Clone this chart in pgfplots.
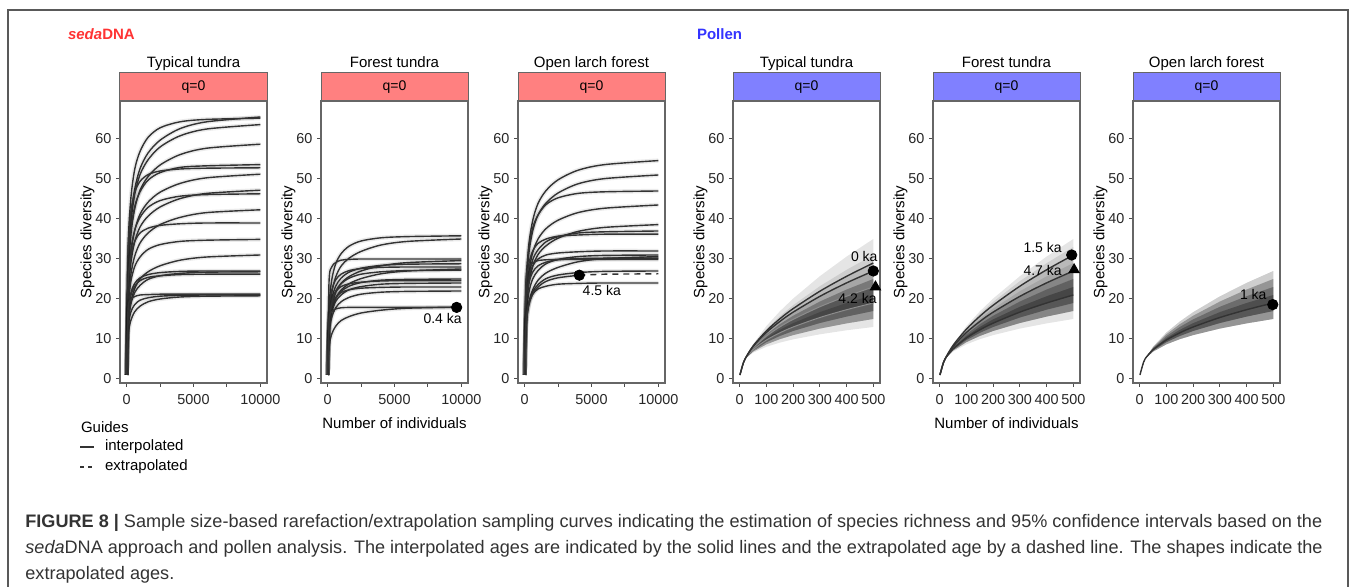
\documentclass[border=0pt]{standalone}
\usepackage{pgfplots}
\pgfplotsset{compat=1.18}
\usepackage{pgfplotstable}
\usepackage{fontspec}
\setmainfont{Liberation Sans}

\definecolor{redstrip}{RGB}{255,128,128}
\definecolor{bluestrip}{RGB}{128,128,255}
\definecolor{sedred}{RGB}{255,51,51}
\definecolor{polblue}{RGB}{51,51,255}
\definecolor{ink}{RGB}{51,51,51}

% sedaDNA rarefaction curves, typical tundra
\pgfplotstableread{
n c1 c2 c3 c4 c5 c6 c7 c8 c9 c10 c11 c12 c13 c14 c15 c16 c17 c18 c19
1 1 1 1 1 1 1 1 1 1 1 1 1 1 1 1 1 1 1 1
100 26.8 31.8 26.0 24.1 26.2 31.0 21.1 19.5 22.7 17.5 23.0 17.3 13.0 16.1 15.6 12.6 10.5 13.4 17.2
300 39.7 44.7 38.6 35.6 36.8 41.4 31.1 28.7 31.8 25.8 30.6 24.1 19.0 21.3 20.7 16.6 14.5 18.5 19.8
600 47.4 52.4 46.1 42.5 43.1 46.6 37.1 34.3 37.2 30.7 34.4 28.1 22.6 23.9 23.2 18.6 16.8 21.6 20.6
1000 52.6 56.9 51.1 47.2 46.8 49.4 41.2 38.0 40.4 34.0 36.5 30.5 25.0 25.3 24.6 19.7 18.2 23.4 21.0
1600 56.5 60.4 54.8 50.6 49.7 51.1 44.2 40.7 42.9 36.5 37.7 32.4 26.8 26.1 25.4 20.3 19.3 24.9 21.1
2500 59.7 62.8 58.0 53.5 51.6 52.0 46.7 43.0 44.6 38.6 38.4 33.6 28.3 26.6 25.8 20.7 20.0 25.8 21.2
4000 62.6 64.3 60.8 56.1 52.9 52.5 48.9 45.1 45.7 40.4 38.8 34.4 29.7 26.9 26.1 20.9 20.5 26.4 21.2
6000 64.3 64.9 62.5 57.7 53.3 52.7 50.3 46.4 46.1 41.6 39.0 34.7 30.5 27.0 26.2 21.0 20.7 26.7 21.2
10000 65.5 65.2 63.6 58.7 53.6 52.8 51.2 47.2 46.3 42.3 39.0 34.9 31.0 27.0 26.2 21.0 20.8 26.8 21.2
}\sedA

% sedaDNA, forest tundra
\pgfplotstableread{
n c1 c2 c3 c4 c5 c6 c7 c8 c9 c10 c11 c12 c13 c14
1 1 1 1 1 1 1 1 1 1 1 1 1 1 1
100 17.7 14.6 24.2 12.4 14.3 16.7 11.6 12.5 14.7 12.0 13.8 11.1 13.6 7.8
300 24.7 21.4 28.0 18.2 19.9 22.1 16.9 17.3 19.4 16.6 18.2 15.3 18.8 11.2
600 28.8 25.5 29.1 21.6 23.2 24.8 20.1 20.2 21.8 19.4 20.4 17.8 22.0 13.2
1000 31.3 28.2 29.7 23.9 25.2 26.2 22.2 21.9 23.1 21.0 21.6 19.3 23.8 14.6
1600 33.2 30.2 29.9 25.6 26.7 27.1 23.8 23.2 23.8 22.3 22.3 20.4 25.2 15.6
2500 34.5 31.9 30.0 27.0 27.7 27.6 25.1 24.1 24.2 23.1 22.7 21.2 26.2 16.5
4000 35.3 33.5 30.0 28.3 28.4 27.9 26.3 24.7 24.5 23.7 22.9 21.7 26.8 17.2
6000 35.6 34.4 30.0 29.1 28.7 28.0 27.0 24.9 24.6 23.9 23.0 21.9 27.1 17.7
10000 35.8 35.0 30.0 29.6 28.8 28.0 27.5 25.0 24.6 24.0 23.0 22.0 27.2 18.0
}\sedB

% sedaDNA, open larch forest
\pgfplotstableread{
n c1 c2 c3 c4 c5 c6 c7 c8 c9 c10 c11 c12 c13 c14
1 1 1 1 1 1 1 1 1 1 1 1 1 1 1
100 22.4 21.0 23.1 18.0 16.0 18.3 21.4 19.0 15.4 12.8 17.9 24.1 13.5 14.3
300 33.2 31.0 32.3 26.5 23.6 25.5 28.5 25.2 21.4 18.8 23.8 27.9 18.7 18.9
600 39.6 37.0 37.8 31.6 28.1 29.8 32.0 28.3 25.0 22.3 26.7 29.0 21.8 21.2
1000 43.9 41.0 41.0 35.0 31.1 32.3 33.9 30.0 27.1 24.7 28.3 29.6 23.6 22.5
1600 47.1 44.0 43.6 37.6 33.3 34.3 35.0 31.0 28.8 26.5 29.2 29.8 25.1 23.2
2500 49.8 46.5 45.3 39.7 35.2 35.6 35.7 31.5 29.9 27.9 29.8 29.9 26.0 23.7
4000 52.2 48.8 46.4 41.6 36.9 36.5 36.0 31.8 30.6 29.3 30.1 29.9 26.6 23.9
6000 53.6 50.1 46.8 42.7 37.9 36.8 36.2 32.0 30.9 30.1 30.2 29.9 26.9 24.0
10000 54.6 51.0 47.0 43.5 38.6 37.0 36.2 32.0 31.0 30.6 30.2 29.9 27.0 24.0
}\sedC

% pollen rarefaction curves (estimate at 500 individuals in the column name)
\pgfplotstableread{
n P13 P15 P17 P19 P21 P23 P25 P27 P29 P31 P33 P35
1 1 1 1 1 1 1 1 1 1 1 1 1
10 3.2 3.2 3.2 3.2 3.2 3.2 3.2 3.2 3.2 3.2 3.2 3.2
20 5 5 5 5 5 5 5 5 5 5 5 5
50 6.56 6.83 7.08 7.31 7.52 7.72 7.91 8.08 8.24 8.40 8.55 8.70
100 8.06 8.66 9.21 9.74 10.25 10.72 11.18 11.62 12.04 12.45 12.84 13.23
150 9.09 9.95 10.75 11.53 12.28 13.00 13.69 14.37 15.03 15.67 16.29 16.90
200 9.91 10.97 12.00 13.00 13.96 14.90 15.81 16.71 17.59 18.44 19.29 20.10
300 11.17 12.60 13.99 15.37 16.72 18.05 19.36 20.66 21.94 23.20 24.46 25.70
400 12.18 13.90 15.60 17.32 19.00 20.69 22.36 24.03 25.67 27.30 28.95 30.60
500 13 15 17 19 21 23 25 27 29 31 33 35
}\pol

% the same curves as coordinate runs, forwards and backwards, for the confidence bands
\newcommand\defcurve[3]{\expandafter\def\csname F#1\endcsname{#2}\expandafter\def\csname R#1\endcsname{#3}}
\defcurve{13}{(50,6.56)(100,8.06)(150,9.09)(200,9.91)(300,11.17)(400,12.18)(500,13)}{(500,13)(400,12.18)(300,11.17)(200,9.91)(150,9.09)(100,8.06)(50,6.56)}
\defcurve{15}{(50,6.83)(100,8.66)(150,9.95)(200,10.97)(300,12.60)(400,13.90)(500,15)}{(500,15)(400,13.90)(300,12.60)(200,10.97)(150,9.95)(100,8.66)(50,6.83)}
\defcurve{17}{(50,7.08)(100,9.21)(150,10.75)(200,12.00)(300,13.99)(400,15.60)(500,17)}{(500,17)(400,15.60)(300,13.99)(200,12.00)(150,10.75)(100,9.21)(50,7.08)}
\defcurve{19}{(50,7.31)(100,9.74)(150,11.53)(200,13.00)(300,15.37)(400,17.32)(500,19)}{(500,19)(400,17.32)(300,15.37)(200,13.00)(150,11.53)(100,9.74)(50,7.31)}
\defcurve{21}{(50,7.52)(100,10.25)(150,12.28)(200,13.96)(300,16.72)(400,19.00)(500,21)}{(500,21)(400,19.00)(300,16.72)(200,13.96)(150,12.28)(100,10.25)(50,7.52)}
\defcurve{23}{(50,7.72)(100,10.72)(150,13.00)(200,14.90)(300,18.05)(400,20.69)(500,23)}{(500,23)(400,20.69)(300,18.05)(200,14.90)(150,13.00)(100,10.72)(50,7.72)}
\defcurve{25}{(50,7.91)(100,11.18)(150,13.69)(200,15.81)(300,19.36)(400,22.36)(500,25)}{(500,25)(400,22.36)(300,19.36)(200,15.81)(150,13.69)(100,11.18)(50,7.91)}
\defcurve{27}{(50,8.08)(100,11.62)(150,14.37)(200,16.71)(300,20.66)(400,24.03)(500,27)}{(500,27)(400,24.03)(300,20.66)(200,16.71)(150,14.37)(100,11.62)(50,8.08)}
\defcurve{29}{(50,8.24)(100,12.04)(150,15.03)(200,17.59)(300,21.94)(400,25.67)(500,29)}{(500,29)(400,25.67)(300,21.94)(200,17.59)(150,15.03)(100,12.04)(50,8.24)}
\defcurve{31}{(50,8.40)(100,12.45)(150,15.67)(200,18.44)(300,23.20)(400,27.30)(500,31)}{(500,31)(400,27.30)(300,23.20)(200,18.44)(150,15.67)(100,12.45)(50,8.40)}
\defcurve{33}{(50,8.55)(100,12.84)(150,16.29)(200,19.29)(300,24.46)(400,28.95)(500,33)}{(500,33)(400,28.95)(300,24.46)(200,19.29)(150,16.29)(100,12.84)(50,8.55)}
\defcurve{35}{(50,8.70)(100,13.23)(150,16.90)(200,20.10)(300,25.70)(400,30.60)(500,35)}{(500,35)(400,30.60)(300,25.70)(200,20.10)(150,16.90)(100,13.23)(50,8.70)}

% band between lower curve #1 and upper curve #2
\newcommand\band[2]{\edef\tmp{\noexpand\addplot[rib] coordinates {(1,1)(10,3.2)(20,5)\csname F#2\endcsname\csname R#1\endcsname(20,5)};}\tmp}

\newcommand\fs[1]{\fontsize{#1}{#1}\selectfont}
\tikzset{lab/.style={font=\fs{7}}}

\pgfplotsset{
  panel/.style={width=73.5pt, height=141pt, scale only axis, anchor=south west,
    ymin=-1, ymax=69.5, ytick={0,10,...,60},
    tick align=outside, tick pos=left,
    major tick length=2pt, minor tick length=2pt,
    tick style={black!70, line width=0.5pt},
    axis line style={black!60, line width=0.6pt},
    ticklabel style={font=\fs{7.2}, text=black!85},
    yticklabel style={xshift=1.2pt},
    /pgf/number format/assume math mode=true,
    /pgf/number format/set thousands separator={},
    scaled x ticks=false,
    ylabel={Species diversity},
    ylabel shift=-6.5pt,
    ylabel style={font=\fs{7.5}, text=black},
    xlabel style={font=\fs{7.5}, text=black},
  },
  sed/.style={panel, xmin=-500, xmax=10500, xtick={0,5000,10000}, minor xtick={2500,7500}},
  pol/.style={panel, xmin=-25, xmax=525, xtick={0,100,...,500}},
  strip/.style 2 args={extra description/.append code={
    \draw[fill=#1, draw=black!60, line width=0.5pt] (0,1) rectangle ([yshift=14pt]1,1);
    \node[font=\fs{7}] at ([yshift=7pt]0.5,1) {q=0};
    \node[font=\fs{7.5}, anchor=base] at ([yshift=16.8pt]0.5,1) {#2};
  }},
  cur/.style={ink, line width=0.7pt, smooth, tension=0.5,
    preaction={draw=black, draw opacity=0.08, line width=2.2pt}},
  rib/.style={fill=black, fill opacity=0.1, draw=none},
  pline/.style={ink, line width=0.7pt, smooth},
  gline/.style={black!45, line width=0.5pt, smooth},
}

\begin{document}
\begin{tikzpicture}
\path[use as bounding box] (0,0) rectangle (678.5pt,293.5pt);
\draw[black!65, line width=0.7pt] (4pt,0) -- (4pt,288.5pt) -- (674pt,288.5pt) -- (674pt,0);

\node[anchor=west, font=\fs{7.5}\bfseries, text=sedred] at (30.5pt,276.5pt) {\textit{seda}DNA};
\node[anchor=west, font=\fs{7.5}\bfseries, text=polblue] at (345pt,276.5pt) {Pollen};

% ---- sedaDNA ----
\begin{axis}[sed, at={(60pt,102pt)}, strip={redstrip}{Typical tundra}]
\pgfplotsinvokeforeach{c1,c2,c3,c4,c5,c6,c7,c8,c9,c10,c11,c12,c13,c14,c15,c16,c17,c18,c19}{
  \addplot[cur] table[x=n, y=#1] {\sedA};
}
\end{axis}

\begin{axis}[sed, at={(160.5pt,102pt)}, strip={redstrip}{Forest tundra},
  xlabel={Number of individuals}]
\pgfplotsinvokeforeach{c1,c2,c3,c4,c5,c6,c7,c8,c9,c10,c11,c12,c13,c14}{
  \addplot[cur] table[x=n, y=#1] {\sedB};
}
\addplot[cur] coordinates {(1,1) (100,14.6) (300,16.8) (600,17.5) (1000,17.8) (1600,17.9) (2500,17.9) (4000,17.9) (6000,17.9) (9650,17.9)};
\addplot[only marks, mark=*, mark size=2.6pt, black] coordinates {(9650,17.9)};
\node[lab] at (axis cs:8600,15.0) {0.4 ka};
\end{axis}

\begin{axis}[sed, at={(259pt,102pt)}, strip={redstrip}{Open larch forest}]
\pgfplotsinvokeforeach{c1,c2,c3,c4,c5,c6,c7,c8,c9,c10,c11,c12,c13,c14}{
  \addplot[cur] table[x=n, y=#1] {\sedC};
}
\addplot[cur] coordinates {(1,1) (100,13.1) (300,18.2) (600,21.2) (1000,23.0) (1600,24.4) (2500,25.3) (4090,25.95)};
\addplot[ink, line width=0.7pt, dash pattern=on 3pt off 2.5pt] coordinates {(4090,25.95) (6000,26.2) (10000,26.3)};
\addplot[only marks, mark=*, mark size=2.6pt, black] coordinates {(4090,25.95)};
\node[lab] at (axis cs:5770,22.2) {4.5 ka};
\end{axis}

% ---- pollen ----
\begin{axis}[pol, at={(366.5pt,102pt)}, strip={bluestrip}{Typical tundra}]
\band{13}{35}\band{15}{31}\band{15}{29}\band{17}{27}
\band{15}{25}\band{17}{25}\band{19}{25}\band{17}{23}
\band{15}{23}\band{19}{23}\band{17}{21}\band{19}{21}
\addplot[gline] table[x=n, y=P23] {\pol};
\addplot[gline] table[x=n, y=P19] {\pol};
\addplot[pline] table[x=n, y=P29] {\pol};
\addplot[pline] table[x=n, y=P27] {\pol};
\addplot[only marks, mark=*, mark size=2.6pt, black] coordinates {(500,27)};
\addplot[only marks, mark=triangle*, mark size=3pt, black] coordinates {(508,23)};
\node[lab] at (axis cs:466,30.5) {0 ka};
\node[lab] at (axis cs:441,20.1) {4.2 ka};
\end{axis}

\begin{axis}[pol, at={(466.5pt,102pt)}, strip={bluestrip}{Forest tundra},
  xlabel={Number of individuals}]
\band{15}{35}\band{17}{33}\band{17}{31}\band{19}{29}
\band{17}{27}\band{19}{27}\band{17}{25}\band{19}{25}
\band{21}{25}\band{17}{23}\band{19}{23}\band{21}{23}
\addplot[pline] table[x=n, y=P31] {\pol};
\addplot[pline] table[x=n, y=P27] {\pol};
\addplot[pline] table[x=n, y=P21] {\pol};
\addplot[only marks, mark=*, mark size=2.6pt, black] coordinates {(494,31)};
\addplot[only marks, mark=triangle*, mark size=3pt, black] coordinates {(503,27.3)};
\node[lab] at (axis cs:385,32.8) {1.5 ka};
\node[lab] at (axis cs:385,27) {4.7 ka};
\end{axis}

\begin{axis}[pol, at={(566.5pt,102pt)}, strip={bluestrip}{Open larch forest}]
\band{15}{27}\band{15}{25}\band{17}{25}\band{15}{23}
\band{17}{23}\band{19}{23}\band{17}{21}\band{15}{21}
\band{19}{25}\band{17}{27}\band{19}{21}\band{15}{19}\band{17}{19}
\addplot[pline] table[x=n, y=P19] {\pol};
\addplot[only marks, mark=*, mark size=2.6pt, black] coordinates {(498,18.6)};
\node[lab] at (axis cs:425,21) {1 ka};
\end{axis}

% guides
\node[anchor=west, font=\fs{7.5}] at (37pt,80pt) {Guides};
\draw[ink, line width=0.7pt] (40pt,70pt) -- (47pt,70pt);
\node[anchor=west, font=\fs{7.5}] at (49pt,70pt) {interpolated};
\draw[ink, line width=0.7pt, dash pattern=on 2pt off 2.2pt] (40pt,60pt) -- (48pt,60pt);
\node[anchor=west, font=\fs{7.5}] at (49pt,60pt) {extrapolated};

% caption
\begin{scope}[every node/.style={anchor=west, inner sep=0pt, font=\fs{9.05}, text=black!80}]
\node at (12.5pt,32pt) {\textbf{FIGURE 8 |} Sample size-based rarefaction/extrapolation sampling curves indicating the estimation of species richness and 95\% confidence intervals based on the};
\node at (12.5pt,19pt) {\textit{seda}DNA approach and pollen analysis. The interpolated ages are indicated by the solid lines and the extrapolated age by a dashed line. The shapes indicate the};
\node at (12.5pt,6pt) {extrapolated ages.};
\end{scope}
\end{tikzpicture}
\end{document}
